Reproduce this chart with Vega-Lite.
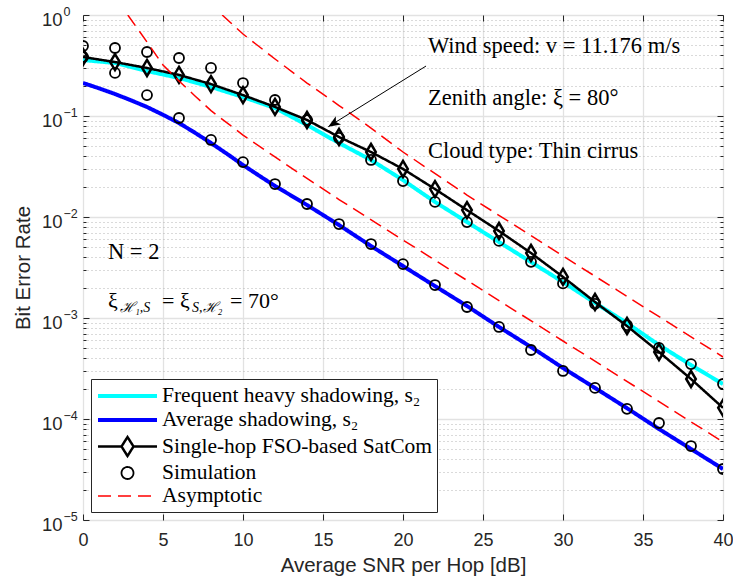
{
  "$schema": "https://vega.github.io/schema/vega-lite/v6.json",
  "width": 640,
  "height": 505,
  "autosize": {"type": "none"},
  "padding": {"left": 83, "top": 15, "right": 10, "bottom": 66},
  "background": "white",
  "config": {
    "view": {"stroke": "#333333", "strokeWidth": 1},
    "axis": {"labelFont": "Liberation Sans", "titleFont": "Liberation Sans", "labelColor": "#262626", "titleColor": "#262626", "tickColor": "#262626", "titleFontWeight": "normal", "domain": false, "labelOverlap": false, "labelFlush": false},
    "legend": {"orient": "bottom-left", "offset": 8, "fillColor": "white", "strokeColor": "#262626", "padding": 5, "rowPadding": 1, "labelFont": "Liberation Serif", "labelFontSize": 21.5, "labelColor": "black", "labelLimit": 500, "symbolSize": 400, "labelOffset": 42, "symbolOffset": 0, "symbolFillColor": "transparent"}
  },
  "datasets": {
    "keys": [
      {"series": "Frequent heavy shadowing, s₂"},
      {"series": "Average shadowing, s₂"},
      {"series": "Single-hop FSO-based SatCom"},
      {"series": "Simulation"},
      {"series": "Asymptotic"}
    ],
    "heavy": [
      {"snr": 0, "ber": 0.358, "series": "Frequent heavy shadowing, s₂"},
      {"snr": 2, "ber": 0.335, "series": "Frequent heavy shadowing, s₂"},
      {"snr": 4, "ber": 0.279, "series": "Frequent heavy shadowing, s₂"},
      {"snr": 6, "ber": 0.238, "series": "Frequent heavy shadowing, s₂"},
      {"snr": 8, "ber": 0.194, "series": "Frequent heavy shadowing, s₂"},
      {"snr": 10, "ber": 0.154, "series": "Frequent heavy shadowing, s₂"},
      {"snr": 12, "ber": 0.12, "series": "Frequent heavy shadowing, s₂"},
      {"snr": 14, "ber": 0.0814, "series": "Frequent heavy shadowing, s₂"},
      {"snr": 16, "ber": 0.054, "series": "Frequent heavy shadowing, s₂"},
      {"snr": 18, "ber": 0.0367, "series": "Frequent heavy shadowing, s₂"},
      {"snr": 20, "ber": 0.0232, "series": "Frequent heavy shadowing, s₂"},
      {"snr": 22, "ber": 0.0141, "series": "Frequent heavy shadowing, s₂"},
      {"snr": 24, "ber": 0.00892, "series": "Frequent heavy shadowing, s₂"},
      {"snr": 26, "ber": 0.00565, "series": "Frequent heavy shadowing, s₂"},
      {"snr": 28, "ber": 0.00358, "series": "Frequent heavy shadowing, s₂"},
      {"snr": 30, "ber": 0.00227, "series": "Frequent heavy shadowing, s₂"},
      {"snr": 32, "ber": 0.00141, "series": "Frequent heavy shadowing, s₂"},
      {"snr": 34, "ber": 0.00089, "series": "Frequent heavy shadowing, s₂"},
      {"snr": 36, "ber": 0.00054, "series": "Frequent heavy shadowing, s₂"},
      {"snr": 38, "ber": 0.000342, "series": "Frequent heavy shadowing, s₂"},
      {"snr": 40, "ber": 0.000222, "series": "Frequent heavy shadowing, s₂"}
    ],
    "average": [
      {"snr": 0, "ber": 0.2122, "series": "Average shadowing, s₂"},
      {"snr": 1, "ber": 0.188, "series": "Average shadowing, s₂"},
      {"snr": 2, "ber": 0.1651, "series": "Average shadowing, s₂"},
      {"snr": 3, "ber": 0.143, "series": "Average shadowing, s₂"},
      {"snr": 4, "ber": 0.1228, "series": "Average shadowing, s₂"},
      {"snr": 5, "ber": 0.1028, "series": "Average shadowing, s₂"},
      {"snr": 6, "ber": 0.0852, "series": "Average shadowing, s₂"},
      {"snr": 7, "ber": 0.0682, "series": "Average shadowing, s₂"},
      {"snr": 8, "ber": 0.054, "series": "Average shadowing, s₂"},
      {"snr": 9, "ber": 0.0422, "series": "Average shadowing, s₂"},
      {"snr": 10, "ber": 0.0327, "series": "Average shadowing, s₂"},
      {"snr": 11, "ber": 0.0257, "series": "Average shadowing, s₂"},
      {"snr": 12, "ber": 0.0203, "series": "Average shadowing, s₂"},
      {"snr": 14, "ber": 0.01315, "series": "Average shadowing, s₂"},
      {"snr": 16, "ber": 0.00833, "series": "Average shadowing, s₂"},
      {"snr": 18, "ber": 0.00516, "series": "Average shadowing, s₂"},
      {"snr": 20, "ber": 0.00327, "series": "Average shadowing, s₂"},
      {"snr": 22, "ber": 0.00207, "series": "Average shadowing, s₂"},
      {"snr": 24, "ber": 0.001315, "series": "Average shadowing, s₂"},
      {"snr": 26, "ber": 0.000815, "series": "Average shadowing, s₂"},
      {"snr": 28, "ber": 0.000516, "series": "Average shadowing, s₂"},
      {"snr": 30, "ber": 0.00032, "series": "Average shadowing, s₂"},
      {"snr": 32, "ber": 0.000203, "series": "Average shadowing, s₂"},
      {"snr": 34, "ber": 0.000128, "series": "Average shadowing, s₂"},
      {"snr": 36, "ber": 0.0000796, "series": "Average shadowing, s₂"},
      {"snr": 38, "ber": 0.0000505, "series": "Average shadowing, s₂"},
      {"snr": 40, "ber": 0.000032, "series": "Average shadowing, s₂"}
    ],
    "single": [
      {"snr": 0, "ber": 0.384, "series": "Single-hop FSO-based SatCom"},
      {"snr": 2, "ber": 0.342, "series": "Single-hop FSO-based SatCom"},
      {"snr": 4, "ber": 0.299, "series": "Single-hop FSO-based SatCom"},
      {"snr": 6, "ber": 0.255, "series": "Single-hop FSO-based SatCom"},
      {"snr": 8, "ber": 0.207, "series": "Single-hop FSO-based SatCom"},
      {"snr": 10, "ber": 0.161, "series": "Single-hop FSO-based SatCom"},
      {"snr": 12, "ber": 0.123, "series": "Single-hop FSO-based SatCom"},
      {"snr": 14, "ber": 0.0913, "series": "Single-hop FSO-based SatCom"},
      {"snr": 16, "ber": 0.062, "series": "Single-hop FSO-based SatCom"},
      {"snr": 18, "ber": 0.044, "series": "Single-hop FSO-based SatCom"},
      {"snr": 20, "ber": 0.0299, "series": "Single-hop FSO-based SatCom"},
      {"snr": 22, "ber": 0.0189, "series": "Single-hop FSO-based SatCom"},
      {"snr": 24, "ber": 0.0117, "series": "Single-hop FSO-based SatCom"},
      {"snr": 26, "ber": 0.00727, "series": "Single-hop FSO-based SatCom"},
      {"snr": 28, "ber": 0.0044, "series": "Single-hop FSO-based SatCom"},
      {"snr": 30, "ber": 0.00255, "series": "Single-hop FSO-based SatCom"},
      {"snr": 32, "ber": 0.00144, "series": "Single-hop FSO-based SatCom"},
      {"snr": 34, "ber": 0.000833, "series": "Single-hop FSO-based SatCom"},
      {"snr": 36, "ber": 0.000461, "series": "Single-hop FSO-based SatCom"},
      {"snr": 38, "ber": 0.000249, "series": "Single-hop FSO-based SatCom"},
      {"snr": 40, "ber": 0.000129, "series": "Single-hop FSO-based SatCom"}
    ],
    "sim": [
      {"snr": 0, "ber": 0.493, "series": "Simulation"},
      {"snr": 2, "ber": 0.471, "series": "Simulation"},
      {"snr": 4, "ber": 0.43, "series": "Simulation"},
      {"snr": 6, "ber": 0.375, "series": "Simulation"},
      {"snr": 8, "ber": 0.299, "series": "Simulation"},
      {"snr": 10, "ber": 0.212, "series": "Simulation"},
      {"snr": 12, "ber": 0.144, "series": "Simulation"},
      {"snr": 14, "ber": 0.0913, "series": "Simulation"},
      {"snr": 16, "ber": 0.0606, "series": "Simulation"},
      {"snr": 18, "ber": 0.0367, "series": "Simulation"},
      {"snr": 20, "ber": 0.0227, "series": "Simulation"},
      {"snr": 22, "ber": 0.0141, "series": "Simulation"},
      {"snr": 24, "ber": 0.0089, "series": "Simulation"},
      {"snr": 26, "ber": 0.0058, "series": "Simulation"},
      {"snr": 28, "ber": 0.0036, "series": "Simulation"},
      {"snr": 30, "ber": 0.0022, "series": "Simulation"},
      {"snr": 32, "ber": 0.00138, "series": "Simulation"},
      {"snr": 34, "ber": 0.00085, "series": "Simulation"},
      {"snr": 36, "ber": 0.000505, "series": "Simulation"},
      {"snr": 38, "ber": 0.00035, "series": "Simulation"},
      {"snr": 40, "ber": 0.000222, "series": "Simulation"},
      {"snr": 0, "ber": 0.384, "series": "Simulation"},
      {"snr": 2, "ber": 0.267, "series": "Simulation"},
      {"snr": 4, "ber": 0.161, "series": "Simulation"},
      {"snr": 6, "ber": 0.0955, "series": "Simulation"},
      {"snr": 8, "ber": 0.0579, "series": "Simulation"},
      {"snr": 10, "ber": 0.035, "series": "Simulation"},
      {"snr": 12, "ber": 0.0212, "series": "Simulation"},
      {"snr": 14, "ber": 0.01345, "series": "Simulation"},
      {"snr": 16, "ber": 0.00852, "series": "Simulation"},
      {"snr": 18, "ber": 0.0054, "series": "Simulation"},
      {"snr": 20, "ber": 0.00342, "series": "Simulation"},
      {"snr": 22, "ber": 0.00212, "series": "Simulation"},
      {"snr": 24, "ber": 0.001285, "series": "Simulation"},
      {"snr": 26, "ber": 0.000815, "series": "Simulation"},
      {"snr": 28, "ber": 0.000482, "series": "Simulation"},
      {"snr": 30, "ber": 0.000299, "series": "Simulation"},
      {"snr": 32, "ber": 0.000203, "series": "Simulation"},
      {"snr": 34, "ber": 0.000126, "series": "Simulation"},
      {"snr": 36, "ber": 0.0000913, "series": "Simulation"},
      {"snr": 38, "ber": 0.000054, "series": "Simulation"},
      {"snr": 40, "ber": 0.000032, "series": "Simulation"}
    ],
    "asym": [
      {"snr": 2.8, "ber": 1.0, "series": "Asymptotic", "curve": "average"},
      {"snr": 4, "ber": 0.54, "series": "Asymptotic", "curve": "average"},
      {"snr": 5, "ber": 0.32, "series": "Asymptotic", "curve": "average"},
      {"snr": 6, "ber": 0.222, "series": "Asymptotic", "curve": "average"},
      {"snr": 7, "ber": 0.158, "series": "Asymptotic", "curve": "average"},
      {"snr": 8, "ber": 0.113, "series": "Asymptotic", "curve": "average"},
      {"snr": 10, "ber": 0.0648, "series": "Asymptotic", "curve": "average"},
      {"snr": 12, "ber": 0.0393, "series": "Asymptotic", "curve": "average"},
      {"snr": 14, "ber": 0.0241, "series": "Asymptotic", "curve": "average"},
      {"snr": 16, "ber": 0.0149, "series": "Asymptotic", "curve": "average"},
      {"snr": 20, "ber": 0.00592, "series": "Asymptotic", "curve": "average"},
      {"snr": 30, "ber": 0.000592, "series": "Asymptotic", "curve": "average"},
      {"snr": 40, "ber": 0.0000592, "series": "Asymptotic", "curve": "average"},
      {"snr": 8.7, "ber": 1.0, "series": "Asymptotic", "curve": "heavy"},
      {"snr": 10, "ber": 0.648, "series": "Asymptotic", "curve": "heavy"},
      {"snr": 12, "ber": 0.367, "series": "Asymptotic", "curve": "heavy"},
      {"snr": 14, "ber": 0.212, "series": "Asymptotic", "curve": "heavy"},
      {"snr": 16, "ber": 0.127, "series": "Asymptotic", "curve": "heavy"},
      {"snr": 18, "ber": 0.076, "series": "Asymptotic", "curve": "heavy"},
      {"snr": 20, "ber": 0.044, "series": "Asymptotic", "curve": "heavy"},
      {"snr": 24, "ber": 0.0165, "series": "Asymptotic", "curve": "heavy"},
      {"snr": 30, "ber": 0.00411, "series": "Asymptotic", "curve": "heavy"},
      {"snr": 40, "ber": 0.000411, "series": "Asymptotic", "curve": "heavy"}
    ],
    "arrow": [{"snr": 21.44, "ber": 0.3124, "snr2": 15.33, "ber2": 0.0783}],
    "notes": [
      {"snr": 21.56, "ber": 0.493, "label": "Wind speed: v = 11.176 m/s"},
      {"snr": 21.56, "ber": 0.1505, "label": "Zenith angle: ξ = 80°"},
      {"snr": 21.56, "ber": 0.0448, "label": "Cloud type: Thin cirrus"},
      {"snr": 1.5625, "ber": 0.00447, "label": "N = 2"}
    ],
    "xi": [
      {"snr": 1.5625, "ber": 0.00147, "part": "a", "label": "ξ"},
      {"snr": 1.5625, "ber": 0.00147, "part": "b", "label": "ℋ₁,S"},
      {"snr": 1.5625, "ber": 0.00147, "part": "c", "label": "= ξ"},
      {"snr": 1.5625, "ber": 0.00147, "part": "d", "label": "S,ℋ₂"},
      {"snr": 1.5625, "ber": 0.00147, "part": "e", "label": "= 70°"}
    ]
  },
  "resolve": {"axis": {"x": "independent", "y": "independent"}},
  "layer": [
    {
      "data": {"name": "heavy"},
      "mark": {"type": "line", "clip": true},
      "encoding": {
        "x": {"field": "snr", "type": "quantitative", "scale": {"domain": [0, 40], "nice": false, "zero": false},
          "axis": {"orient": "bottom", "values": [0, 5, 10, 15, 20, 25, 30, 35, 40], "grid": true, "gridColor": "#e2e2e2", "gridWidth": 1.3, "tickSize": -6, "labelPadding": 17, "labelFontSize": 18, "title": "Average SNR per Hop [dB]", "titleFontSize": 20.5, "titlePadding": 6}},
        "y": {"field": "ber", "type": "quantitative", "scale": {"type": "log", "domain": [0.00001, 1], "nice": false},
          "axis": {"orient": "left", "values": [0.00001, 0.0001, 0.001, 0.01, 0.1, 1], "grid": true, "gridColor": "#e2e2e2", "gridWidth": 1.3, "tickSize": -6, "labelPadding": 27, "labelFontSize": 18.5, "labelOffset": 4, "labelExpr": "'10'", "title": "Bit Error Rate", "titleFontSize": 20.5, "titlePadding": 8}},
        "stroke": {"field": "series", "type": "nominal", "legend": {"title": null}, "scale": {"domain": ["Frequent heavy shadowing, s₂", "Average shadowing, s₂", "Single-hop FSO-based SatCom", "Simulation", "Asymptotic"], "range": ["#00ffff", "#0000ff", "#000000", "#000000", "#ff0000"]}},
        "strokeWidth": {"field": "series", "type": "nominal", "legend": {"title": null}, "scale": {"type": "ordinal", "domain": ["Frequent heavy shadowing, s₂", "Average shadowing, s₂", "Single-hop FSO-based SatCom", "Simulation", "Asymptotic"], "range": [4, 4, 2.5, 1.8, 1.5]}},
        "strokeDash": {"field": "series", "type": "nominal", "legend": {"title": null}, "scale": {"domain": ["Frequent heavy shadowing, s₂", "Average shadowing, s₂", "Single-hop FSO-based SatCom", "Simulation", "Asymptotic"], "range": [[1, 0], [1, 0], [1, 0], [1, 0], [13, 7]]}}
      }
    },
    {
      "data": {"name": "average"},
      "mark": {"type": "line", "clip": true},
      "encoding": {
        "x": {"field": "snr", "type": "quantitative", "scale": {"domain": [0, 40], "nice": false, "zero": false}, "axis": null},
        "y": {"field": "ber", "type": "quantitative", "scale": {"type": "log", "domain": [0.00001, 1], "nice": false},
          "axis": {"orient": "left", "values": [0.00002, 0.00003, 0.00004, 0.00005, 0.00006, 0.00007, 0.00008, 0.00009, 0.0002, 0.0003, 0.0004, 0.0005, 0.0006, 0.0007, 0.0008, 0.0009, 0.002, 0.003, 0.004, 0.005, 0.006, 0.007, 0.008, 0.009, 0.02, 0.03, 0.04, 0.05, 0.06, 0.07, 0.08, 0.09, 0.2, 0.3, 0.4, 0.5, 0.6, 0.7, 0.8, 0.9], "grid": true, "gridColor": "#b4b4b4", "gridDash": [1, 3], "gridWidth": 1, "tickSize": -3, "labels": false, "title": null}},
        "stroke": {"field": "series", "type": "nominal", "legend": {"title": null}, "scale": {"domain": ["Frequent heavy shadowing, s₂", "Average shadowing, s₂", "Single-hop FSO-based SatCom", "Simulation", "Asymptotic"], "range": ["#00ffff", "#0000ff", "#000000", "#000000", "#ff0000"]}},
        "strokeWidth": {"field": "series", "type": "nominal", "legend": {"title": null}, "scale": {"type": "ordinal", "domain": ["Frequent heavy shadowing, s₂", "Average shadowing, s₂", "Single-hop FSO-based SatCom", "Simulation", "Asymptotic"], "range": [4, 4, 2.5, 1.8, 1.5]}},
        "strokeDash": {"field": "series", "type": "nominal", "legend": {"title": null}, "scale": {"domain": ["Frequent heavy shadowing, s₂", "Average shadowing, s₂", "Single-hop FSO-based SatCom", "Simulation", "Asymptotic"], "range": [[1, 0], [1, 0], [1, 0], [1, 0], [13, 7]]}}
      }
    },
    {
      "data": {"name": "single"},
      "mark": {"type": "line", "clip": true},
      "encoding": {
        "x": {"field": "snr", "type": "quantitative", "scale": {"domain": [0, 40], "nice": false, "zero": false},
          "axis": {"orient": "top", "values": [0, 5, 10, 15, 20, 25, 30, 35, 40], "grid": false, "tickSize": -6, "labels": false, "title": null}},
        "y": {"field": "ber", "type": "quantitative", "scale": {"type": "log", "domain": [0.00001, 1], "nice": false},
          "axis": {"orient": "right", "values": [0.00001, 0.0001, 0.001, 0.01, 0.1, 1], "grid": false, "tickSize": -6, "labels": false, "title": null}},
        "stroke": {"field": "series", "type": "nominal", "legend": {"title": null}, "scale": {"domain": ["Frequent heavy shadowing, s₂", "Average shadowing, s₂", "Single-hop FSO-based SatCom", "Simulation", "Asymptotic"], "range": ["#00ffff", "#0000ff", "#000000", "#000000", "#ff0000"]}},
        "strokeWidth": {"field": "series", "type": "nominal", "legend": {"title": null}, "scale": {"type": "ordinal", "domain": ["Frequent heavy shadowing, s₂", "Average shadowing, s₂", "Single-hop FSO-based SatCom", "Simulation", "Asymptotic"], "range": [4, 4, 2.5, 1.8, 1.5]}},
        "strokeDash": {"field": "series", "type": "nominal", "legend": {"title": null}, "scale": {"domain": ["Frequent heavy shadowing, s₂", "Average shadowing, s₂", "Single-hop FSO-based SatCom", "Simulation", "Asymptotic"], "range": [[1, 0], [1, 0], [1, 0], [1, 0], [13, 7]]}}
      }
    },
    {
      "data": {"name": "single"},
      "mark": {"type": "point", "shape": "M0,-1L0.6,0L0,1L-0.6,0Z", "size": 256, "filled": false, "opacity": 1, "clip": true},
      "encoding": {
        "x": {"field": "snr", "type": "quantitative", "scale": {"domain": [0, 40], "nice": false, "zero": false}, "axis": null},
        "y": {"field": "ber", "type": "quantitative", "scale": {"type": "log", "domain": [0.00001, 1], "nice": false},
          "axis": {"orient": "right", "values": [0.00002, 0.00003, 0.00004, 0.00005, 0.00006, 0.00007, 0.00008, 0.00009, 0.0002, 0.0003, 0.0004, 0.0005, 0.0006, 0.0007, 0.0008, 0.0009, 0.002, 0.003, 0.004, 0.005, 0.006, 0.007, 0.008, 0.009, 0.02, 0.03, 0.04, 0.05, 0.06, 0.07, 0.08, 0.09, 0.2, 0.3, 0.4, 0.5, 0.6, 0.7, 0.8, 0.9], "grid": false, "tickSize": -3, "labels": false, "title": null}},
        "stroke": {"field": "series", "type": "nominal", "legend": {"title": null}, "scale": {"domain": ["Frequent heavy shadowing, s₂", "Average shadowing, s₂", "Single-hop FSO-based SatCom", "Simulation", "Asymptotic"], "range": ["#00ffff", "#0000ff", "#000000", "#000000", "#ff0000"]}},
        "strokeWidth": {"field": "series", "type": "nominal", "legend": {"title": null}, "scale": {"type": "ordinal", "domain": ["Frequent heavy shadowing, s₂", "Average shadowing, s₂", "Single-hop FSO-based SatCom", "Simulation", "Asymptotic"], "range": [4, 4, 2.5, 1.8, 1.5]}}
      }
    },
    {
      "data": {"name": "sim"},
      "mark": {"type": "point", "shape": "circle", "size": 100, "filled": false, "opacity": 1, "clip": true},
      "encoding": {
        "x": {"field": "snr", "type": "quantitative", "scale": {"domain": [0, 40], "nice": false, "zero": false}, "axis": null},
        "y": {"field": "ber", "type": "quantitative", "scale": {"type": "log", "domain": [0.00001, 1], "nice": false},
          "axis": {"orient": "left", "values": [0.00001, 0.0001, 0.001, 0.01, 0.1, 1], "grid": false, "ticks": false, "labelPadding": 20, "labelAlign": "left", "labelFontSize": 12.5, "labelOffset": -4, "labelExpr": "datum.value >= 0.5 ? '0' : '−' + round(-log(datum.value)/LN10)", "title": null}},
        "stroke": {"field": "series", "type": "nominal", "legend": {"title": null}, "scale": {"domain": ["Frequent heavy shadowing, s₂", "Average shadowing, s₂", "Single-hop FSO-based SatCom", "Simulation", "Asymptotic"], "range": ["#00ffff", "#0000ff", "#000000", "#000000", "#ff0000"]}},
        "strokeWidth": {"field": "series", "type": "nominal", "legend": {"title": null}, "scale": {"type": "ordinal", "domain": ["Frequent heavy shadowing, s₂", "Average shadowing, s₂", "Single-hop FSO-based SatCom", "Simulation", "Asymptotic"], "range": [4, 4, 2.5, 1.8, 1.5]}}
      }
    },
    {
      "data": {"name": "asym"},
      "mark": {"type": "line", "clip": true},
      "encoding": {
        "x": {"field": "snr", "type": "quantitative", "scale": {"domain": [0, 40], "nice": false, "zero": false}, "axis": null},
        "y": {"field": "ber", "type": "quantitative", "scale": {"type": "log", "domain": [0.00001, 1], "nice": false}, "axis": null},
        "detail": {"field": "curve", "type": "nominal"},
        "stroke": {"field": "series", "type": "nominal", "legend": {"title": null}, "scale": {"domain": ["Frequent heavy shadowing, s₂", "Average shadowing, s₂", "Single-hop FSO-based SatCom", "Simulation", "Asymptotic"], "range": ["#00ffff", "#0000ff", "#000000", "#000000", "#ff0000"]}},
        "strokeWidth": {"field": "series", "type": "nominal", "legend": {"title": null}, "scale": {"type": "ordinal", "domain": ["Frequent heavy shadowing, s₂", "Average shadowing, s₂", "Single-hop FSO-based SatCom", "Simulation", "Asymptotic"], "range": [4, 4, 2.5, 1.8, 1.5]}},
        "strokeDash": {"field": "series", "type": "nominal", "legend": {"title": null}, "scale": {"domain": ["Frequent heavy shadowing, s₂", "Average shadowing, s₂", "Single-hop FSO-based SatCom", "Simulation", "Asymptotic"], "range": [[1, 0], [1, 0], [1, 0], [1, 0], [13, 7]]}}
      }
    },
    {
      "data": {"name": "keys"},
      "mark": {"type": "point", "filled": false, "opacity": 0},
      "encoding": {
        "shape": {"field": "series", "type": "nominal", "legend": {"title": null}, "scale": {"domain": ["Frequent heavy shadowing, s₂", "Average shadowing, s₂", "Single-hop FSO-based SatCom", "Simulation", "Asymptotic"], "range": ["M-1,0L4.9,0", "M-1,0L4.9,0", "M-1,0L1.35,0M2.55,0L4.9,0M1.95,-0.95L2.55,0L1.95,0.95L1.35,0Z", "M1.35,0A0.6,0.6 0 1,1 2.55,0A0.6,0.6 0 1,1 1.35,0Z", "M-1,0L4.9,0"]}},
        "stroke": {"field": "series", "type": "nominal", "legend": {"title": null}, "scale": {"domain": ["Frequent heavy shadowing, s₂", "Average shadowing, s₂", "Single-hop FSO-based SatCom", "Simulation", "Asymptotic"], "range": ["#00ffff", "#0000ff", "#000000", "#000000", "#ff0000"]}},
        "strokeWidth": {"field": "series", "type": "nominal", "legend": {"title": null}, "scale": {"type": "ordinal", "domain": ["Frequent heavy shadowing, s₂", "Average shadowing, s₂", "Single-hop FSO-based SatCom", "Simulation", "Asymptotic"], "range": [4, 4, 2.5, 1.8, 1.5]}},
        "strokeDash": {"field": "series", "type": "nominal", "legend": {"title": null}, "scale": {"domain": ["Frequent heavy shadowing, s₂", "Average shadowing, s₂", "Single-hop FSO-based SatCom", "Simulation", "Asymptotic"], "range": [[1, 0], [1, 0], [1, 0], [1, 0], [13, 7]]}}
      }
    },
    {
      "data": {"name": "arrow"},
      "mark": {"type": "rule", "color": "black", "strokeWidth": 1},
      "encoding": {
        "x": {"field": "snr", "type": "quantitative", "scale": {"domain": [0, 40], "nice": false, "zero": false}, "axis": null},
        "y": {"field": "ber", "type": "quantitative", "scale": {"type": "log", "domain": [0.00001, 1], "nice": false}, "axis": null},
        "x2": {"field": "snr2"},
        "y2": {"field": "ber2"}
      }
    },
    {
      "data": {"name": "arrow"},
      "mark": {"type": "point", "shape": "M0,0L1,2.4L0,1.8L-1,2.4Z", "size": 100, "filled": true, "color": "black", "opacity": 1, "angle": 238},
      "encoding": {
        "x": {"field": "snr2", "type": "quantitative", "scale": {"domain": [0, 40], "nice": false, "zero": false}, "axis": null},
        "y": {"field": "ber2", "type": "quantitative", "scale": {"type": "log", "domain": [0.00001, 1], "nice": false}, "axis": null}
      }
    },
    {
      "data": {"name": "notes"},
      "mark": {"type": "text", "font": "Liberation Serif", "fontSize": 22.5, "align": "left", "baseline": "middle", "color": "black"},
      "encoding": {
        "x": {"field": "snr", "type": "quantitative", "scale": {"domain": [0, 40], "nice": false, "zero": false}, "axis": null},
        "y": {"field": "ber", "type": "quantitative", "scale": {"type": "log", "domain": [0.00001, 1], "nice": false}, "axis": null},
        "text": {"field": "label"}
      }
    },
    {
      "data": {"name": "xi"},
      "transform": [{"filter": "datum.part === 'a'"}],
      "mark": {"type": "text", "font": "Liberation Serif", "fontSize": 22, "align": "left", "baseline": "middle", "color": "black", "dx": 0},
      "encoding": {
        "x": {"field": "snr", "type": "quantitative", "scale": {"domain": [0, 40], "nice": false, "zero": false}, "axis": null},
        "y": {"field": "ber", "type": "quantitative", "scale": {"type": "log", "domain": [0.00001, 1], "nice": false}, "axis": null},
        "text": {"field": "label"}
      }
    },
    {
      "data": {"name": "xi"},
      "transform": [{"filter": "datum.part === 'b'"}],
      "mark": {"type": "text", "font": "Liberation Serif", "fontSize": 14, "fontStyle": "italic", "align": "left", "baseline": "middle", "color": "black", "dx": 12, "dy": 7},
      "encoding": {
        "x": {"field": "snr", "type": "quantitative", "scale": {"domain": [0, 40], "nice": false, "zero": false}, "axis": null},
        "y": {"field": "ber", "type": "quantitative", "scale": {"type": "log", "domain": [0.00001, 1], "nice": false}, "axis": null},
        "text": {"field": "label"}
      }
    },
    {
      "data": {"name": "xi"},
      "transform": [{"filter": "datum.part === 'c'"}],
      "mark": {"type": "text", "font": "Liberation Serif", "fontSize": 22, "align": "left", "baseline": "middle", "color": "black", "dx": 54},
      "encoding": {
        "x": {"field": "snr", "type": "quantitative", "scale": {"domain": [0, 40], "nice": false, "zero": false}, "axis": null},
        "y": {"field": "ber", "type": "quantitative", "scale": {"type": "log", "domain": [0.00001, 1], "nice": false}, "axis": null},
        "text": {"field": "label"}
      }
    },
    {
      "data": {"name": "xi"},
      "transform": [{"filter": "datum.part === 'd'"}],
      "mark": {"type": "text", "font": "Liberation Serif", "fontSize": 14, "fontStyle": "italic", "align": "left", "baseline": "middle", "color": "black", "dx": 84, "dy": 7},
      "encoding": {
        "x": {"field": "snr", "type": "quantitative", "scale": {"domain": [0, 40], "nice": false, "zero": false}, "axis": null},
        "y": {"field": "ber", "type": "quantitative", "scale": {"type": "log", "domain": [0.00001, 1], "nice": false}, "axis": null},
        "text": {"field": "label"}
      }
    },
    {
      "data": {"name": "xi"},
      "transform": [{"filter": "datum.part === 'e'"}],
      "mark": {"type": "text", "font": "Liberation Serif", "fontSize": 22, "align": "left", "baseline": "middle", "color": "black", "dx": 122},
      "encoding": {
        "x": {"field": "snr", "type": "quantitative", "scale": {"domain": [0, 40], "nice": false, "zero": false}, "axis": null},
        "y": {"field": "ber", "type": "quantitative", "scale": {"type": "log", "domain": [0.00001, 1], "nice": false}, "axis": null},
        "text": {"field": "label"}
      }
    }
  ]
}
